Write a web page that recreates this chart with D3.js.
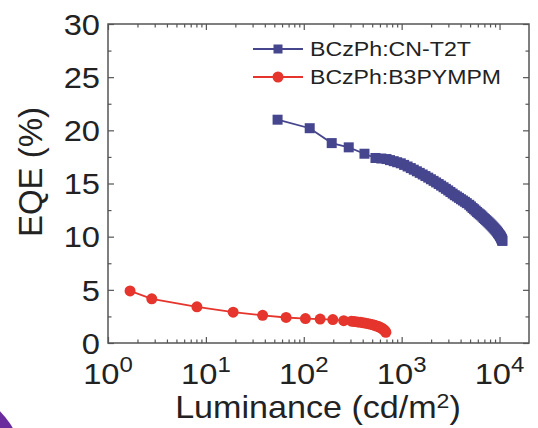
<!DOCTYPE html>
<html>
<head>
<meta charset="utf-8">
<script src="https://cdn.jsdelivr.net/npm/d3@7"></script>
<style>
  html, body { margin: 0; padding: 0; background: #fff; }
  svg { display: block; font-family: "Liberation Sans", Arial, sans-serif; }
</style>
</head>
<body>
<script>
// values
var seriesNames = ["BCzPh:CN-T2T", "BCzPh:B3PYMPM"];

var blueLum = [54, 115, 193, 288, 417, 540, 620, 700, 760, 830, 900, 980, 1060, 1150, 1240,
  1330, 1430, 1530, 1640, 1750, 1870, 1990, 2120, 2250, 2390, 2530, 2680, 2830, 2990,
  3150, 3320, 3490, 3670, 3850, 4040, 4230, 4430, 4630, 4900, 5100, 5300, 5500, 5700,
  5900, 6100, 6300, 6500, 6700, 6900, 7100, 7300, 7500, 7700, 7900, 8100, 8300, 8500,
  8700, 8900, 9100, 9300, 9480, 9650, 9820, 10000, 10130, 10250, 10350, 10450, 10530,
  10600, 10650, 10700];
var blueEqe = [21.0, 20.2, 18.8, 18.4, 17.8, 17.4, 17.35, 17.3, 17.2, 17.1, 17.0, 16.9, 16.75, 16.6, 16.45,
  16.3, 16.15, 16.0, 15.85, 15.7, 15.55, 15.4, 15.25, 15.1, 14.95, 14.8, 14.65, 14.5, 14.35,
  14.2, 14.05, 13.9, 13.78, 13.65, 13.52, 13.4, 13.28, 13.15, 13.0, 12.85, 12.7, 12.58, 12.45,
  12.32, 12.2, 12.1, 12.0, 11.88, 11.75, 11.65, 11.55, 11.45, 11.35, 11.25, 11.15, 11.05, 10.95,
  10.85, 10.75, 10.65, 10.55, 10.45, 10.35, 10.25, 10.15, 10.07, 10.0, 9.92, 9.85, 9.78,
  9.72, 9.66, 9.6];

var redLum = [1.68, 2.8, 8.1, 19, 38, 66, 104, 147, 198, 256, 307, 330, 355, 380, 405, 430, 455, 480,
  505, 530, 555, 580, 600, 620, 640, 655, 670, 680, 690];
var redEqe = [4.9, 4.15, 3.4, 2.9, 2.6, 2.4, 2.3, 2.25, 2.2, 2.1, 2.05, 2.02, 1.98, 1.94, 1.9, 1.86, 1.82, 1.77,
  1.72, 1.66, 1.6, 1.54, 1.48, 1.41, 1.33, 1.26, 1.18, 1.09, 1.0];

var yTicks = [0, 5, 10, 15, 20, 25, 30];
var yMinor = [2.5, 7.5, 12.5, 17.5, 22.5, 27.5];
var xTicks = [1, 10, 100, 1000, 10000];
var xExp = ["0", "1", "2", "3", "4"];

var blue = "#46468f", red = "#e5352c", ink = "#222";

var svg = d3.select("body").append("svg").attr("width", 538).attr("height", 428);

// purple corner shape from the source screenshot
svg.append("circle").attr("cx", -60).attr("cy", 470).attr("r", 84).attr("fill", "#6b2d9e");

var m = { left: 108, top: 24, right: 529, bottom: 343 };

var x = d3.scaleLog().domain([1, 20000]).range([m.left, m.right]);
var y = d3.scaleLinear().domain([0, 30]).range([m.bottom, m.top]);

var xMinor = [];
[1, 10, 100, 1000, 10000].forEach(function (d) {
  for (var k = 2; k <= 9; k++) if (d * k < 20000) xMinor.push(d * k);
});

function ticks(axis, tr) {
  var g = svg.append("g").attr("transform", tr).call(axis);
  g.select(".domain").remove();
  g.selectAll("line").attr("stroke", "#555").attr("stroke-width", 1.2);
  return g;
}

ticks(d3.axisBottom(x).tickValues(xTicks).tickSize(-6).tickFormat(""), "translate(0," + m.bottom + ")");
ticks(d3.axisBottom(x).tickValues(xMinor).tickSize(-3.5).tickFormat(""), "translate(0," + m.bottom + ")");
ticks(d3.axisTop(x).tickValues(xTicks).tickSize(-6).tickFormat(""), "translate(0," + m.top + ")");
ticks(d3.axisTop(x).tickValues(xMinor).tickSize(-3.5).tickFormat(""), "translate(0," + m.top + ")");
ticks(d3.axisLeft(y).tickValues(yTicks).tickSize(-6).tickFormat(""), "translate(" + m.left + ",0)");
ticks(d3.axisLeft(y).tickValues(yMinor).tickSize(-3.5).tickFormat(""), "translate(" + m.left + ",0)");
ticks(d3.axisRight(y).tickValues(yTicks).tickSize(-6).tickFormat(""), "translate(" + m.right + ",0)");
ticks(d3.axisRight(y).tickValues(yMinor).tickSize(-3.5).tickFormat(""), "translate(" + m.right + ",0)");

svg.append("rect")
  .attr("x", m.left).attr("y", m.top)
  .attr("width", m.right - m.left).attr("height", m.bottom - m.top)
  .attr("fill", "none").attr("stroke", "#555").attr("stroke-width", 1.5);

// y tick labels
svg.append("g").selectAll("text").data(yTicks).enter().append("text")
  .attr("transform", function (d) { return "translate(100," + y(d) + ") scale(1.09,1)"; })
  .attr("text-anchor", "end").attr("dy", "0.36em")
  .attr("font-size", 30).attr("fill", ink)
  .text(function (d) { return d; });

// x tick labels 10^n
var xl = svg.append("g").selectAll("text").data(xTicks).enter().append("text")
  .attr("transform", function (d) { return "translate(" + x(d) + ",384) scale(1.09,1)"; })
  .attr("text-anchor", "middle").attr("fill", ink).attr("font-size", 30);
xl.append("tspan").text("10");
xl.append("tspan").attr("font-size", 22).attr("dy", -12).text(function (d, i) { return xExp[i]; });

// axis titles
var xt = svg.append("text")
  .attr("transform", "translate(318,418) scale(1.1,1)")
  .attr("text-anchor", "middle").attr("font-size", 31).attr("fill", ink);
xt.append("tspan").text("Luminance (cd/m");
xt.append("tspan").attr("font-size", 21).attr("dy", -10).text("2");
xt.append("tspan").attr("dy", 10).text(")");

svg.append("text")
  .attr("transform", "translate(42,172) rotate(-90)")
  .attr("text-anchor", "middle").attr("font-size", 33).attr("fill", ink)
  .text("EQE (%)");

// series
var line = d3.line().x(function (d) { return x(d[0]); }).y(function (d) { return y(d[1]); });
var blueData = d3.zip(blueLum, blueEqe);
var redData = d3.zip(redLum, redEqe);

svg.append("path").datum(redData).attr("d", line)
  .attr("fill", "none").attr("stroke", red).attr("stroke-width", 1.8);
svg.append("g").selectAll("circle").data(redData).enter().append("circle")
  .attr("cx", function (d) { return x(d[0]); })
  .attr("cy", function (d) { return y(d[1]); })
  .attr("r", 5.5).attr("fill", red);

svg.append("path").datum(blueData).attr("d", line)
  .attr("fill", "none").attr("stroke", blue).attr("stroke-width", 1.8);
svg.append("g").selectAll("rect").data(blueData).enter().append("rect")
  .attr("x", function (d) { return x(d[0]) - 5; })
  .attr("y", function (d) { return y(d[1]) - 5; })
  .attr("width", 10).attr("height", 10).attr("fill", blue);

// legend
var legend = svg.append("g");
var legY = [49, 77], legColors = [blue, red], legWidths = [161, 191];
legend.selectAll("line").data(seriesNames).enter().append("line")
  .attr("x1", 253).attr("x2", 303)
  .attr("y1", function (d, i) { return legY[i]; }).attr("y2", function (d, i) { return legY[i]; })
  .attr("stroke", function (d, i) { return legColors[i]; }).attr("stroke-width", 1.8);
legend.append("rect").attr("x", 278 - 4.5).attr("y", legY[0] - 4.5)
  .attr("width", 9).attr("height", 9).attr("fill", blue);
legend.append("circle").attr("cx", 278).attr("cy", legY[1]).attr("r", 5.5).attr("fill", red);
legend.selectAll("text").data(seriesNames).enter().append("text")
  .attr("x", 310).attr("y", function (d, i) { return legY[i]; })
  .attr("dy", "0.36em").attr("font-size", 20).attr("fill", ink)
  .attr("textLength", function (d, i) { return legWidths[i]; })
  .attr("lengthAdjust", "spacingAndGlyphs")
  .text(function (d) { return d; });
</script>
</body>
</html>
